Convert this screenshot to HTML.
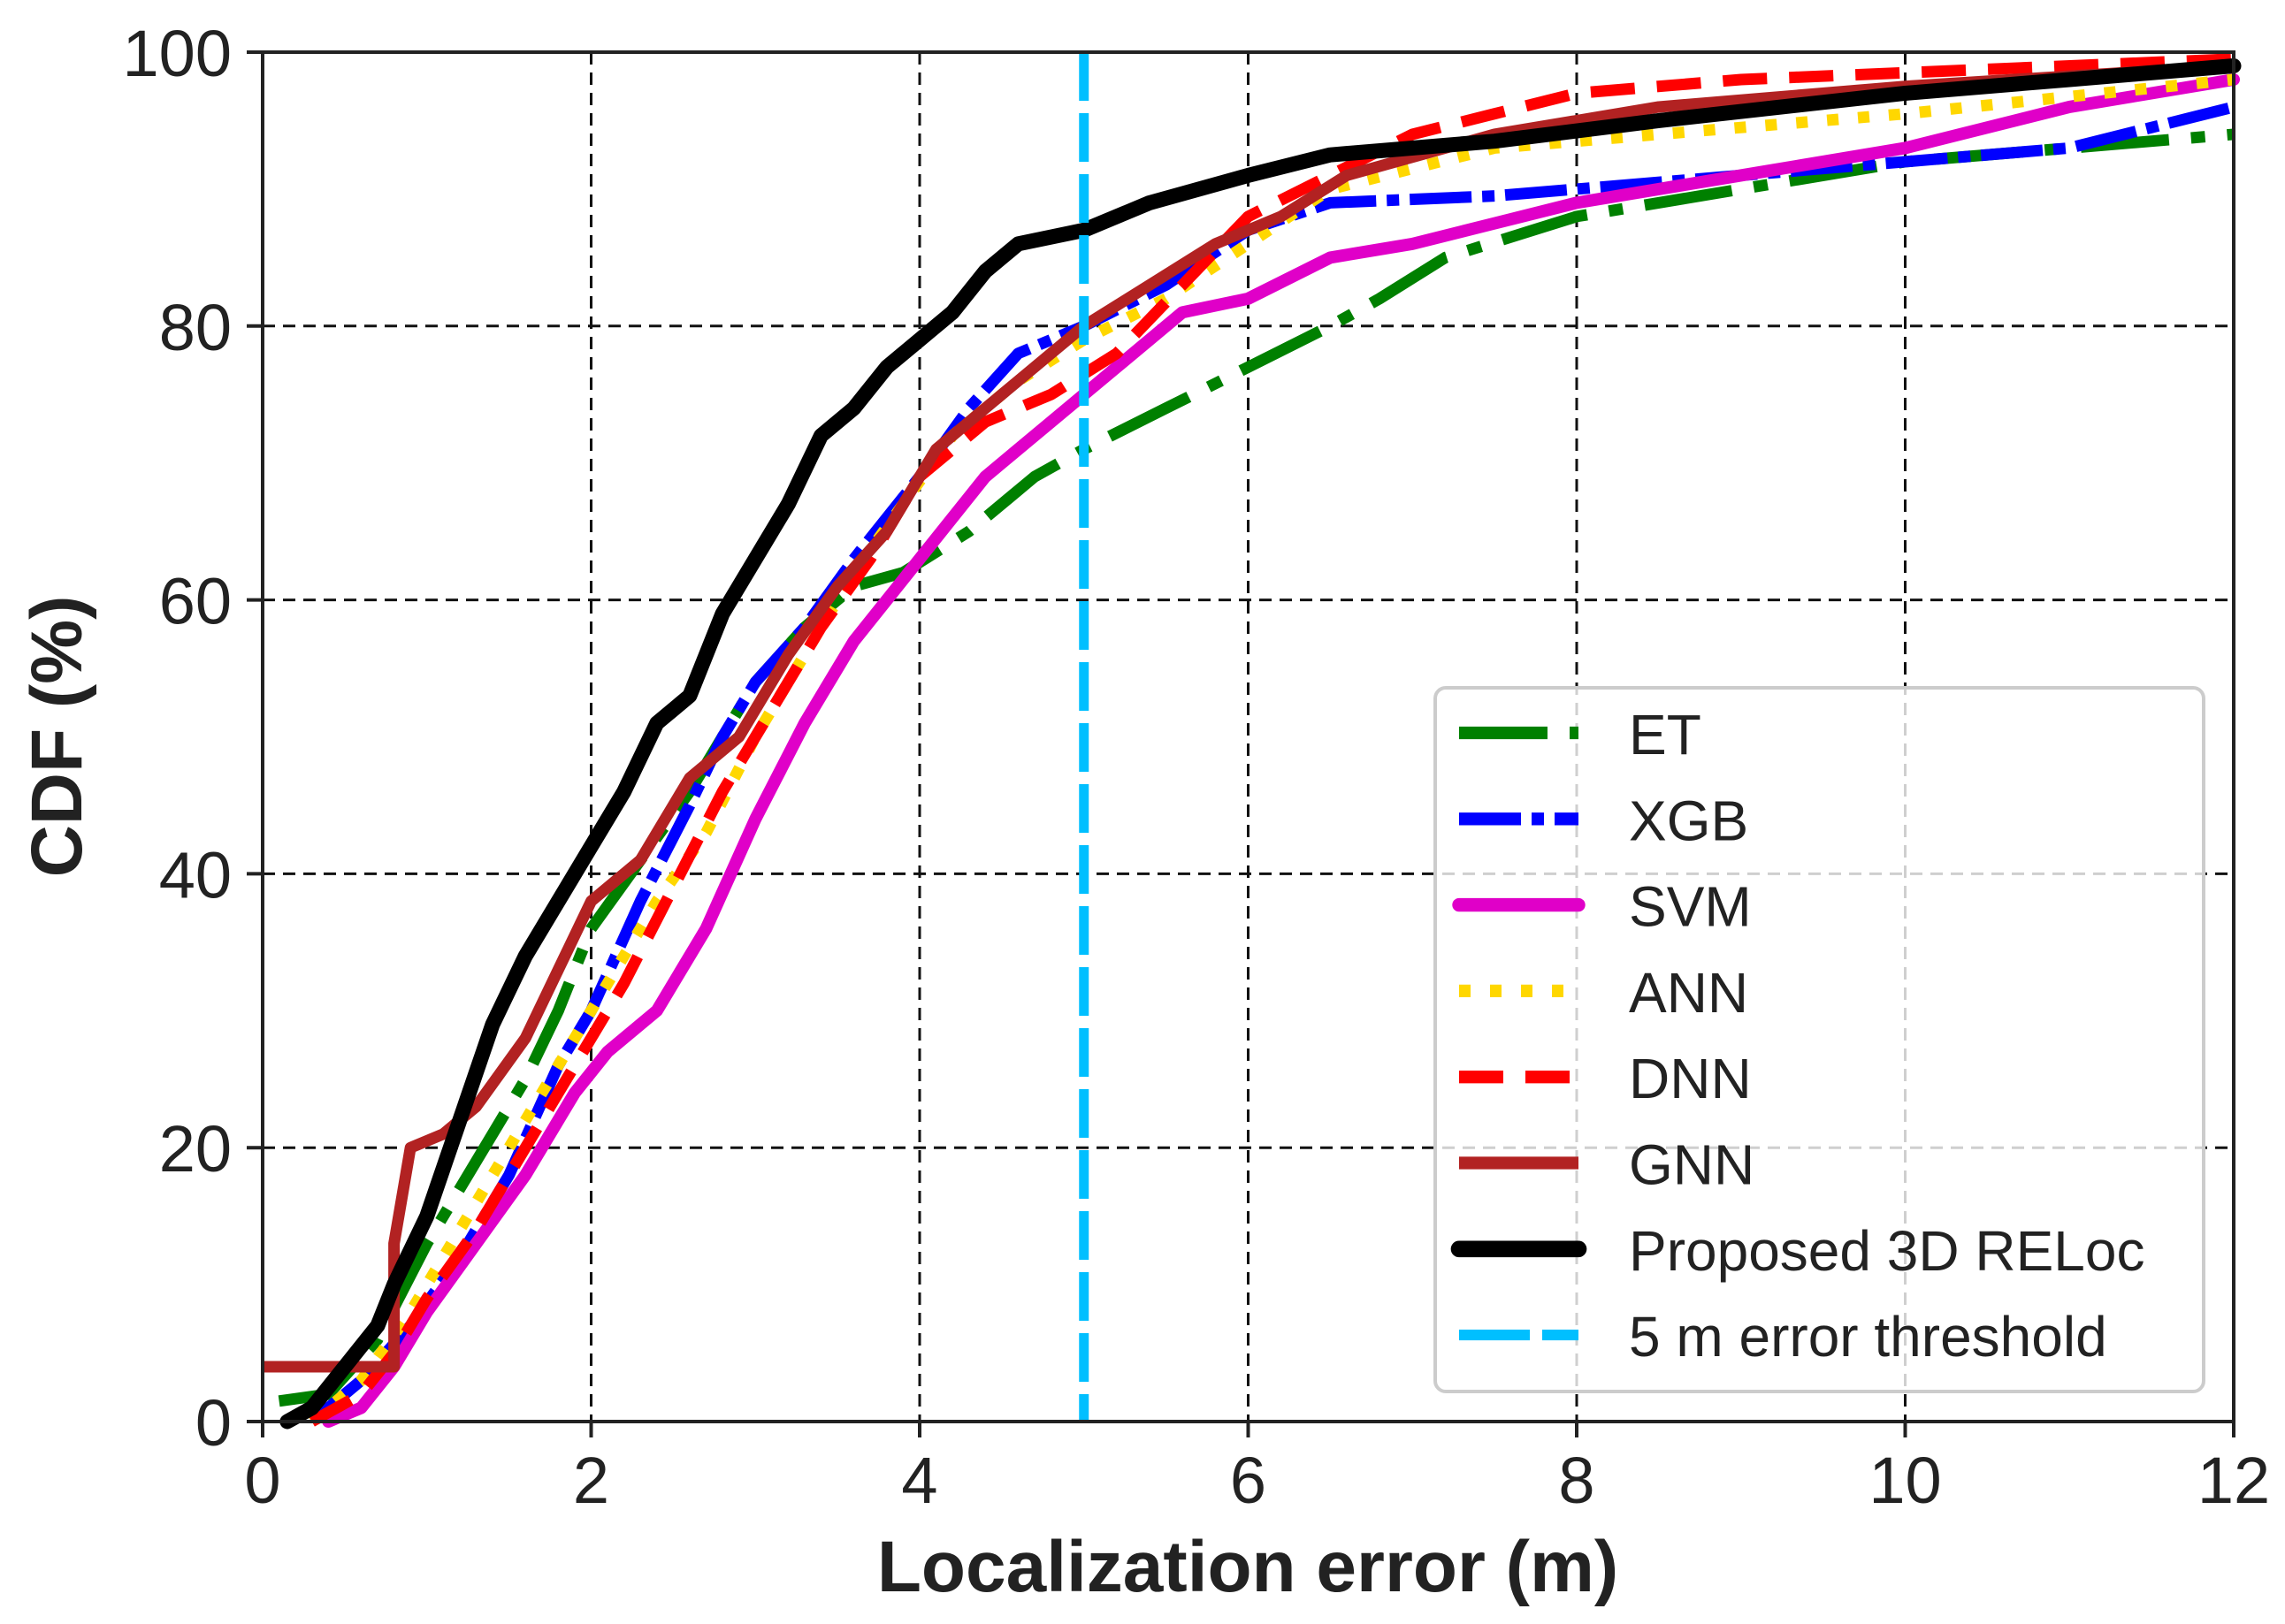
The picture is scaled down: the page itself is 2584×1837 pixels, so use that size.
<!DOCTYPE html>
<html><head><meta charset="utf-8"><style>
html,body{margin:0;padding:0;background:#fff;}
svg{display:block;font-family:"Liberation Sans",Arial,sans-serif;}
</style></head><body>
<svg id="chart" width="2584" height="1837" viewBox="0 0 2584 1837" xmlns="http://www.w3.org/2000/svg">
<g id="grid"></g>
<g id="series"></g>
<rect x="297" y="59" width="2229" height="1549" fill="none" stroke="#222" stroke-width="4"/>
<g id="ticks"></g>
<text x="1411" y="1800" font-size="82" font-weight="bold" text-anchor="middle" fill="#222">Localization error (m)</text>
<text transform="translate(92,833) rotate(-90)" font-size="82" font-weight="bold" text-anchor="middle" fill="#222">CDF (%)</text>
<g id="legend"></g>
</svg>
<script>
const xTicks=[0,2,4,6,8,10,12];
const yTicks=[0,20,40,60,80,100];
const seriesNames=["ET","XGB","SVM","ANN","DNN","GNN","Proposed 3D RELoc"];
const etX=[0.1,0.4,0.7,1,1.3,1.6,1.8,2.0,2.3,2.6,2.8,3.0,3.3,3.6,3.9,4.3,4.7,5,5.5,6.0,6.5,6.8,7.2,8,9,10,11,12];
const etY=[1.5,2,6,13,19,25,30,36,41,46,50,54,58,61,62,65,69,71,74,77,80,82,85,88,90,92,93,94];
const xgbX=[0.3,0.6,0.9,1.2,1.5,1.8,2.0,2.3,2.6,2.8,3.0,3.3,3.6,4.0,4.3,4.6,5,5.5,6,6.5,7.5,8,9,10,11,12];
const xgbY=[0,3,7,12,18,26,30,38,45,50,54,58,63,69,74,78,80,83,87,89,89.5,90,91,92,93,96];
const svmX=[0.4,0.6,0.8,1.0,1.3,1.6,1.9,2.1,2.4,2.7,3.0,3.3,3.6,4.0,4.4,4.8,5.2,5.6,6.0,6.5,7,7.5,8,9,10,11,12];
const svmY=[0,1,4,8,13,18,24,27,30,36,44,51,57,63,69,73,77,81,82,85,86,87.5,89,91,93,96,98];
const annX=[0.3,0.6,0.9,1.2,1.5,1.8,2.1,2.4,2.7,3.0,3.3,3.6,3.9,4.2,4.6,5,5.5,6,6.5,7.5,8.5,10,12];
const annY=[0,3,8,14,20,26,32,38,43,50,56,62,67,72,76,79,82,86,90,93,94,95.5,98];
const dnnX=[0.3,0.6,0.8,1.0,1.3,1.6,1.9,2.2,2.5,2.8,3.1,3.4,3.7,4.0,4.4,4.8,5.2,5.6,6.0,6.5,7,7.5,8,9,10,12];
const dnnY=[0,2,5,9,14,20,26,32,39,46,52,58,63,69,73,75,78,83,88,91,94,95.5,97,98,98.5,99.5];
const gnnX=[0,0.8,0.8,0.9,1.1,1.3,1.6,1.8,2.0,2.3,2.6,2.9,3.2,3.5,3.8,4.1,4.5,5,5.4,5.8,6.2,6.6,7.5,8.5,10,12];
const gnnY=[4,4,13,20,21,23,28,33,38,41,47,50,56,61,65,71,75,80,83,86,88,91,94,96,97.5,99];
const relocX=[0.15,0.3,0.5,0.7,0.8,1.0,1.2,1.4,1.6,1.8,2.0,2.2,2.4,2.6,2.8,3.0,3.2,3.4,3.6,3.8,4.0,4.2,4.4,4.6,5.0,5.4,6.0,6.5,7.5,8.5,10,11,12];
const relocY=[0,1,4,7,10,15,22,29,34,38,42,46,51,53,59,63,67,72,74,77,79,81,84,86,87,89,91,92.5,93.5,95,97,98,99];
const thresholdX=[5];

const L=297,R=2526,T=59,B=1608;
const sx=v=>L+(v-0)/(12-0)*(R-L);
const sy=v=>B-(v-0)/(100-0)*(B-T);
const NS="http://www.w3.org/2000/svg";
function mk(tag,attrs,parent){const e=document.createElementNS(NS,tag);for(const k in attrs)e.setAttribute(k,attrs[k]);parent.appendChild(e);return e;}
const grid=document.getElementById('grid'),ticks=document.getElementById('ticks'),ser=document.getElementById('series'),leg=document.getElementById('legend');
xTicks.forEach(t=>{
  if(t>0&&t<12){const g=mk('line',{x1:sx(t),x2:sx(t),y1:T,y2:B,stroke:'#111','stroke-width':3,'stroke-dasharray':'14,9'},grid);
  
  }
  const tk=mk('line',{x1:sx(t),x2:sx(t),y1:B,y2:B+18,stroke:'#222','stroke-width':4},ticks);
  
  
  const tx=mk('text',{x:sx(t),y:B+92,'font-size':74,'text-anchor':'middle',fill:'#222'},ticks);
  tx.textContent=t;
  
  
});
yTicks.forEach(t=>{
  if(t>0&&t<100){const g=mk('line',{x1:L,x2:R,y1:sy(t),y2:sy(t),stroke:'#111','stroke-width':3,'stroke-dasharray':'14,9'},grid);
  
  }
  const tk=mk('line',{x1:L-18,x2:L,y1:sy(t),y2:sy(t),stroke:'#222','stroke-width':4},ticks);
  
  
  const tx=mk('text',{x:L-35,y:sy(t)+27,'font-size':74,'text-anchor':'end',fill:'#222'},ticks);
  tx.textContent=t;
  
  
});
const styles=[
 {x:etX,y:etY,c:'#008000',w:13,d:'100,25,16,25',cap:'butt'},
 {x:xgbX,y:xgbY,c:'#0000ff',w:13,d:'70,12,14,12',cap:'butt'},
 {x:svmX,y:svmY,c:'#e000c8',w:14,d:'',cap:'round'},
 {x:annX,y:annY,c:'#ffd700',w:13,d:'13,22',cap:'butt'},
 {x:dnnX,y:dnnY,c:'#ff0000',w:13,d:'50,25',cap:'butt'},
 {x:gnnX,y:gnnY,c:'#b22222',w:13,d:'',cap:'butt'},
 {x:relocX,y:relocY,c:'#000000',w:17,d:'',cap:'round'}
];
const ids=['series-et','series-xgb','series-svm','series-ann','series-dnn','series-gnn','series-reloc'];
styles.forEach((s,i)=>{
  const pts=s.x.map((v,j)=>sx(v)+','+sy(s.y[j])).join(' ');
  const p=mk('polyline',{points:pts,fill:'none',stroke:s.c,'stroke-width':s.w,'stroke-dasharray':s.d,'stroke-linecap':s.cap,'stroke-linejoin':'round'},ser);
  
  
});
thresholdX.forEach(v=>{
  const l=mk('line',{x1:sx(v),x2:sx(v),y1:T,y2:B,stroke:'#00bfff','stroke-width':11,'stroke-dasharray':'55,14'},ser);
  
  
});
const lb=mk('rect',{x:1623,y:778,width:869,height:796,rx:12,fill:'#fff','fill-opacity':0.8,stroke:'#ccc','stroke-width':4},leg);


const legLabels=seriesNames.concat(["5 m error threshold"]);
const legStyles=styles.concat([{c:'#00bfff',w:11,d:'80,14',cap:'butt'}]);
legLabels.forEach((n,i)=>{
  const y=829+i*97.3;const s=legStyles[i];
  const l=mk('line',{x1:1650,x2:1785,y1:y,y2:y,stroke:s.c,'stroke-width':s.w*1.1,'stroke-dasharray':s.d,'stroke-linecap':s.cap},leg);
  
  
  const t=mk('text',{x:1842,y:y+24,'font-size':64,fill:'#222'},leg);
  t.textContent=n;
  
  
});
</script>
</body></html>
